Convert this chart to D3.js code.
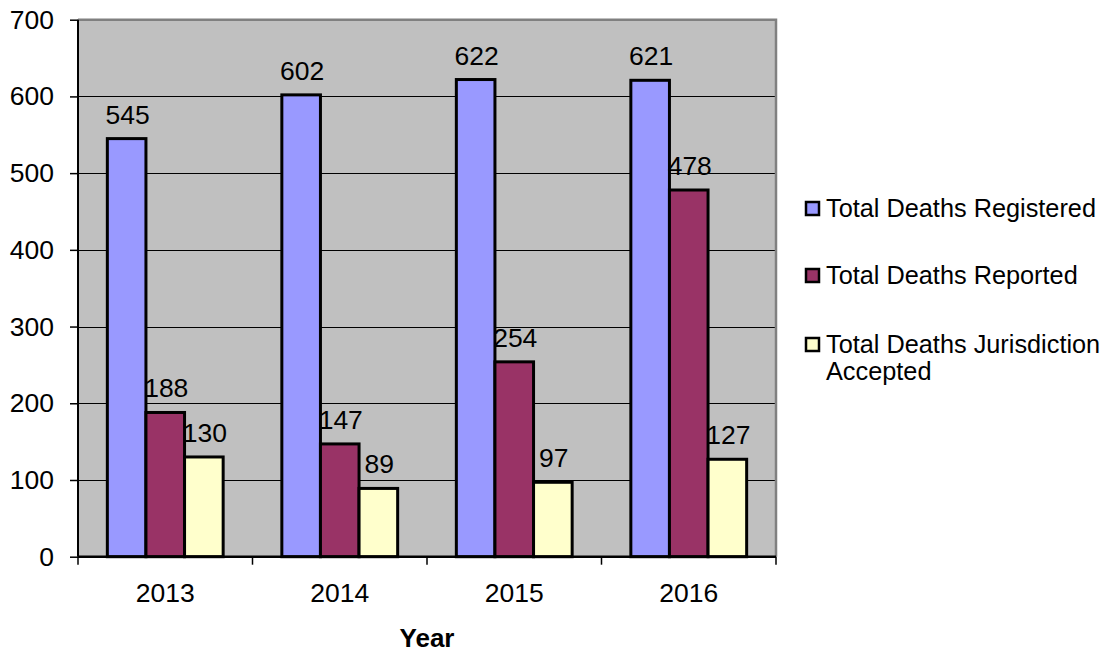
<!DOCTYPE html>
<html>
<head>
<meta charset="utf-8">
<script src="https://cdn.jsdelivr.net/npm/d3@7"></script>
<style>
  body { margin: 0; background: #fff; }
  text { font-family: "Liberation Sans", Arial, sans-serif; fill: #000; }
</style>
</head>
<body>
<svg id="chart" width="1109" height="655"></svg>
<script>
// data
var years = ["2013", "2014", "2015", "2016"];
var seriesNames = ["Total Deaths Registered", "Total Deaths Reported", "Total Deaths Jurisdiction Accepted"];
var registered = [545, 602, 622, 621];
var reported = [188, 147, 254, 478];
var accepted = [130, 89, 97, 127];
var yTicks = [0, 100, 200, 300, 400, 500, 600, 700];
var colors = ["#9999ff", "#993366", "#ffffcc"];

var seriesValues = [registered, reported, accepted];

var margin = {left: 78, top: 19.7, right: 776, bottom: 556.7};
var svg = d3.select("#chart");

var x0 = d3.scaleBand().domain(years).range([margin.left, margin.right]).padding(0);
var x1 = d3.scaleBand().domain(d3.range(seriesNames.length))
    .range([0, x0.bandwidth()]).paddingInner(0).paddingOuter(0.76);
var y = d3.scaleLinear().domain([0, 700]).range([margin.bottom, margin.top]);

// plot background
svg.append("rect")
    .attr("x", margin.left).attr("y", margin.top)
    .attr("width", margin.right - margin.left)
    .attr("height", margin.bottom - margin.top)
    .attr("fill", "#c0c0c0");

// gridlines
svg.append("g").selectAll("line")
    .data(yTicks.filter(function(d) { return d > 0 && d < 700; }))
    .enter().append("line")
    .attr("x1", margin.left).attr("x2", margin.right)
    .attr("y1", function(d) { return Math.round(y(d)) + 0.5; })
    .attr("y2", function(d) { return Math.round(y(d)) + 0.5; })
    .attr("stroke", "#000").attr("stroke-width", 1.2);

// gray border top and right
svg.append("path")
    .attr("d", "M" + margin.left + "," + margin.top + "H" + margin.right + "V" + margin.bottom)
    .attr("fill", "none").attr("stroke", "#808080").attr("stroke-width", 2.5);

// bars
var groups = svg.append("g").selectAll("g")
    .data(years).enter().append("g")
    .attr("transform", function(d) { return "translate(" + x0(d) + ",0)"; });

groups.each(function(yr, i) {
    var g = d3.select(this);
    seriesValues.forEach(function(vals, s) {
        g.append("rect")
            .attr("x", x1(s))
            .attr("y", y(vals[i]))
            .attr("width", x1.bandwidth())
            .attr("height", y(0) - y(vals[i]))
            .attr("fill", colors[s])
            .attr("stroke", "#000")
            .attr("stroke-width", 3);
    });
    seriesValues.forEach(function(vals, s) {
        g.append("text")
            .attr("x", x1(s) + x1.bandwidth() / 2 + 1)
            .attr("y", y(vals[i]) - 15)
            .attr("text-anchor", "middle")
            .style("font-size", "26.5px")
            .text(vals[i]);
    });
});

// y axis
var yAxis = d3.axisLeft(y).tickValues(yTicks).tickSize(8).tickPadding(16);
var gy = svg.append("g")
    .attr("transform", "translate(" + margin.left + ",0)")
    .call(yAxis);
gy.select(".domain").attr("stroke", "#000").attr("stroke-width", 2).attr("d", "M0," + margin.top + "V" + margin.bottom);
gy.selectAll(".tick line").attr("stroke", "#000").attr("stroke-width", 1.5);
gy.selectAll("text").style("font-size", "26.5px").attr("fill", "#000").attr("font-family", null);

// x axis
var xAxis = d3.axisBottom(x0).tickSize(0).tickPadding(26);
var gx = svg.append("g")
    .attr("transform", "translate(0," + margin.bottom + ")")
    .call(xAxis);
gx.select(".domain").attr("stroke", "#000").attr("stroke-width", 2.5).attr("d", "M" + margin.left + ",0H" + margin.right);
gx.selectAll("text").style("font-size", "26.5px").attr("fill", "#000").attr("font-family", null);
// category separators
gx.append("g").selectAll("line")
    .data(years.map(function(d) { return x0(d); }).concat([margin.right]))
    .enter().append("line")
    .attr("x1", function(d) { return d; }).attr("x2", function(d) { return d; })
    .attr("y1", 0).attr("y2", 8)
    .attr("stroke", "#000").attr("stroke-width", 1.5);

// axis title
svg.append("text")
    .attr("x", (margin.left + margin.right) / 2)
    .attr("y", 647)
    .attr("text-anchor", "middle")
    .style("font-size", "26px").style("font-weight", "bold")
    .text("Year");

// legend
var legendRows = [[seriesNames[0]], [seriesNames[1]], ["Total Deaths Jurisdiction", "Accepted"]];
var legendY = [217, 284, 353];
var legend = svg.append("g");
legendRows.forEach(function(lines, i) {
    legend.append("rect")
        .attr("x", 806).attr("y", legendY[i] - 15)
        .attr("width", 13).attr("height", 13)
        .attr("fill", colors[i]).attr("stroke", "#000").attr("stroke-width", 2.5);
    var t = legend.append("text")
        .attr("x", 826).attr("y", legendY[i])
        .style("font-size", "25.3px");
    lines.forEach(function(l, j) {
        t.append("tspan").attr("x", 826).attr("dy", j === 0 ? 0 : 27).text(l);
    });
});
</script>
</body>
</html>
